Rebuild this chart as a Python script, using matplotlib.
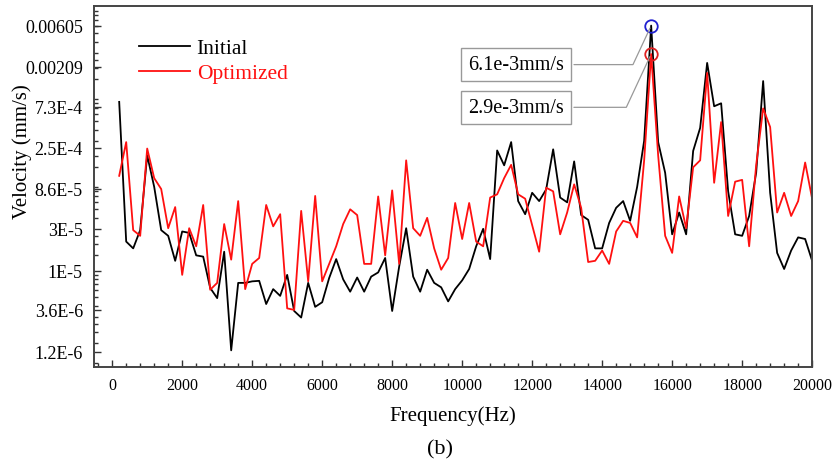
import matplotlib
matplotlib.use("Agg")
import matplotlib.pyplot as plt
from matplotlib.ticker import FixedLocator, MultipleLocator, LogLocator, NullFormatter

plt.rcParams['font.family'] = ['Liberation Serif', 'DejaVu Serif']

# frequency grid (Hz), 200 Hz step
freq = list(range(200, 20001, 200))

initial = [
    8.3e-4, 2.15e-5, 1.8e-5, 2.9e-5, 2.05e-4, 9e-5, 2.9e-5, 2.5e-5, 1.3e-5, 2.8e-5,
    2.7e-5, 1.5e-5, 1.45e-5, 6.4e-6, 4.9e-6, 1.65e-5, 1.25e-6, 7.3e-6, 7.3e-6, 7.6e-6,
    7.7e-6, 4.2e-6, 6.2e-6, 5.2e-6, 9e-6, 3.5e-6, 2.95e-6, 7.3e-6, 3.9e-6, 4.4e-6,
    8.3e-6, 1.36e-5, 8e-6, 5.8e-6, 8.4e-6, 5.8e-6, 8.6e-6, 9.6e-6, 1.4e-5, 3.5e-6,
    1.12e-5, 3.05e-5, 8.6e-6, 5.8e-6, 1.03e-5, 7.3e-6, 6.5e-6, 4.5e-6, 6.2e-6, 7.8e-6,
    1.05e-5, 1.9e-5, 3e-5, 1.36e-5, 2.33e-4, 1.58e-4, 2.9e-4, 6.2e-5, 4.4e-5, 7.7e-5,
    6.2e-5, 8.4e-5, 2.4e-4, 6.8e-5, 6e-5, 1.75e-4, 4.3e-5, 3.8e-5, 1.8e-5, 1.8e-5,
    3.5e-5, 5.2e-5, 6.2e-5, 3.7e-5, 9e-5, 3e-4, 6.1e-3, 2.9e-4, 1.3e-4, 2.6e-5,
    4.6e-5, 2.6e-5, 2.3e-4, 4.2e-4, 2.3e-3, 7.4e-4, 8e-4, 8e-5, 2.6e-5, 2.5e-5,
    4.2e-5, 1.3e-4, 1.43e-3, 7.7e-5, 1.6e-5, 1.05e-5, 1.7e-5, 2.4e-5, 2.3e-5, 1.3e-5,
]

optimized = [
    1.2e-4, 2.9e-4, 2.9e-5, 2.5e-5, 2.45e-4, 1.13e-4, 8.5e-5, 3.05e-5, 5.3e-5, 9e-6,
    3.05e-5, 1.9e-5, 5.6e-5, 6.1e-6, 7.3e-6, 3.4e-5, 1.34e-5, 6.2e-5, 6.2e-6, 1.2e-5,
    1.4e-5, 5.6e-5, 3.2e-5, 4.4e-5, 3.75e-6, 3.6e-6, 4.8e-5, 7.6e-6, 7.1e-5, 7.6e-6,
    1.2e-5, 1.9e-5, 3.4e-5, 5e-5, 4.3e-5, 1.2e-5, 1.2e-5, 7e-5, 1.5e-5, 8.2e-5,
    1.2e-5, 1.8e-4, 3.05e-5, 2.5e-5, 4e-5, 1.8e-5, 1.03e-5, 1.4e-5, 5.9e-5, 2.3e-5,
    5.9e-5, 2.15e-5, 1.9e-5, 6.8e-5, 7.4e-5, 1.13e-4, 1.6e-4, 7.4e-5, 6.6e-5, 3.3e-5,
    1.65e-5, 8.8e-5, 8e-5, 2.6e-5, 4.6e-5, 9.6e-5, 5.2e-5, 1.26e-5, 1.3e-5, 1.7e-5,
    1.2e-5, 2.8e-5, 3.7e-5, 3.5e-5, 2.4e-5, 1.8e-4, 2.9e-3, 2.05e-4, 2.5e-5, 1.6e-5,
    7e-5, 3.05e-5, 1.5e-4, 1.8e-4, 1.77e-3, 1e-4, 4.9e-4, 4.2e-5, 1.03e-4, 1.08e-4,
    1.9e-5, 1.58e-4, 7e-4, 4.3e-4, 4.6e-5, 7.7e-5, 4.2e-5, 6.2e-5, 1.7e-4, 6.6e-5,
]

ytick_vals = [1.2e-6, 3.6e-6, 1e-5, 3e-5, 8.6e-5, 2.5e-4, 7.3e-4, 0.00209, 0.00605]
ytick_labels = ['1.2E-6', '3.6E-6', '1E-5', '3E-5', '8.6E-5', '2.5E-4', '7.3E-4', '0.00209', '0.00605']

peak_freq = 15400
peak_initial = 6.1e-3
peak_optimized = 2.9e-3

fig = plt.figure(figsize=(8.37, 4.64), dpi=100)
ax = fig.add_axes([0.1123, 0.207, 0.858, 0.778])

ax.plot(freq, initial, color='black', lw=1.3, label='Initial')
ax.plot(freq, optimized, color='#ff1010', lw=1.3, label='Optimized')

ax.set_yscale('log')
ax.set_ylim(8.1e-7, 1.02e-2)
ax.set_xlim(-520, 20000)

ax.yaxis.set_major_locator(FixedLocator(ytick_vals))
ax.set_yticklabels(ytick_labels)
ax.yaxis.set_minor_locator(LogLocator(base=10, subs=[1.5, 2, 2.5, 3, 4, 5, 6, 7, 8, 9]))
ax.yaxis.set_minor_formatter(NullFormatter())
ax.xaxis.set_major_locator(MultipleLocator(2000))
ax.xaxis.set_minor_locator(MultipleLocator(400))

ax.tick_params(which='both', direction='in', top=False, right=False,
               color='#333333', width=1.0)
ax.tick_params(axis='x', labelsize=11.5, pad=7)
ax.tick_params(axis='y', labelsize=13, pad=8)
ax.tick_params(which='major', length=5)
ax.tick_params(which='minor', length=3)
for s in ax.spines.values():
    s.set_linewidth(1.4)
    s.set_color('#444444')

ax.set_xlabel('Frequency(Hz)', fontsize=15, labelpad=9)
ax.set_ylabel('Velocity (mm/s)', fontsize=15)
ax.yaxis.set_label_coords(-0.087, 0.6)

leg = ax.legend(loc='upper left', bbox_to_anchor=(0.035, 0.965), frameon=False,
                fontsize=15.5, handlelength=2.4, handletextpad=0.3, labelspacing=0.25)
for t, c in zip(leg.get_texts(), ['black', '#ff1010']):
    t.set_color(c)

# peak markers
ax.plot([peak_freq], [peak_initial], 'o', mfc='none', mec='#2020d0', ms=9, mew=1.3)
ax.plot([peak_freq], [peak_optimized], 'o', mfc='none', mec='#e02020', ms=9, mew=1.3)

box = dict(boxstyle='square,pad=0.35', fc='white', ec='#999999', lw=1.0)
arrow = dict(arrowstyle='-', color='#999999', lw=0.9,
             connectionstyle='angle,angleA=0,angleB=65,rad=0')
ax.annotate('6.1e-3mm/s', xy=(peak_freq, peak_initial), xytext=(11530, 0.0022),
            ha='center', va='center', fontsize=14.5, bbox=box, arrowprops=arrow)
ax.annotate('2.9e-3mm/s', xy=(peak_freq, peak_optimized), xytext=(11530, 7.2e-4),
            ha='center', va='center', fontsize=14.5, bbox=box, arrowprops=arrow)

fig.text(0.526, 0.03, '(b)', ha='center', va='center', fontsize=16)

fig.savefig('out.png', dpi=100)
